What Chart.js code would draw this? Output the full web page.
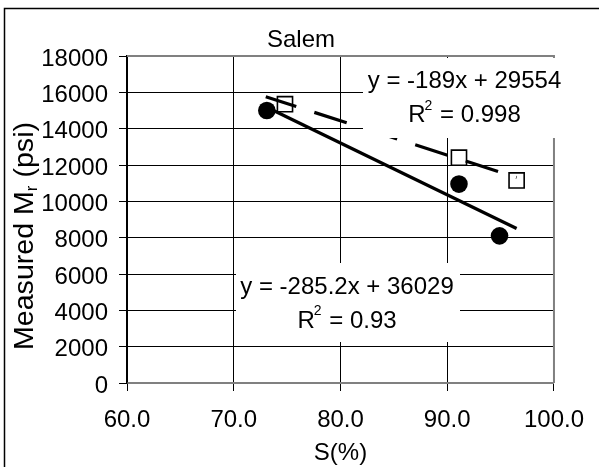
<!DOCTYPE html>
<html>
<head>
<meta charset="utf-8">
<script src="https://cdn.jsdelivr.net/npm/chart.js@4/dist/chart.umd.min.js"></script>
<style>
  html, body { margin: 0; padding: 0; background: #fff; }
  canvas { display: block; }
</style>
</head>
<body>
<canvas id="c" width="599" height="467"></canvas>
<script>
// Measured resilient modulus vs. degree of saturation, Salem
const circleS = [73.1, 91.1, 94.9];
const circleMr = [15000, 10950, 8100];
const squareS = [74.8, 91.1, 96.5];
const squareMr = [15350, 12400, 11150];

// linear fits: index 0 -> filled circles (solid), index 1 -> open squares (dashed)
const fitSlope = [-285.2, -189];
const fitIntercept = [36029, 29554];
const fitR2 = ['0.93', '0.998'];
const fitSpan = [73, 96.5];

const xTicks = [60, 70, 80, 90, 100];
const yTicks = [0, 2000, 4000, 6000, 8000, 10000, 12000, 14000, 16000, 18000];

const FONT = '"Liberation Sans", Arial, Helvetica, sans-serif';

const fitLine = i => fitSpan.map(x => ({ x, y: fitSlope[i] * x + fitIntercept[i] }));
const eqText = i => 'y = ' + fitSlope[i] + 'x + ' + fitIntercept[i];

// equation boxes, placed relative to the plot area (left, top, width, height, text centre, baselines)
const eqBoxes = [
  { fit: 0, x: 109, y: 207, w: 224, h: 79, cx: 220, b1: 237.5, b2: 271.7 },
  { fit: 1, x: 236, y: 2, w: 210, h: 80, cx: 337.5, b1: 32, b2: 66 }
];

const decor = {
  id: 'decor',
  beforeDraw(chart) {
    const ctx = chart.ctx;
    ctx.save();
    ctx.fillStyle = '#fff';
    ctx.fillRect(0, 0, chart.width, chart.height);
    ctx.strokeStyle = '#000';
    ctx.lineWidth = 1.5;
    ctx.beginPath();
    ctx.moveTo(4.5, chart.height + 5);
    ctx.lineTo(4.5, 8.5);
    ctx.lineTo(chart.width + 5, 8.5);
    ctx.stroke();
    ctx.restore();
  },
  beforeDatasetsDraw(chart) {
    const { ctx, chartArea: a } = chart;
    ctx.save();
    ctx.strokeStyle = '#808080';
    ctx.lineWidth = 2;
    ctx.beginPath();
    ctx.moveTo(a.left, a.top);
    ctx.lineTo(a.right, a.top);
    ctx.lineTo(a.right, a.bottom);
    ctx.stroke();
    ctx.restore();
  },
  afterDatasetsDraw(chart) {
    const { ctx, chartArea: a } = chart;
    ctx.save();
    eqBoxes.forEach(bx => {
      ctx.fillStyle = '#fff';
      ctx.fillRect(a.left + bx.x, a.top + bx.y, bx.w, bx.h);
      ctx.fillStyle = '#000';
      ctx.textBaseline = 'alphabetic';
      ctx.font = '24px ' + FONT;
      ctx.textAlign = 'center';
      const cx = a.left + bx.cx;
      ctx.fillText(eqText(bx.fit), cx, a.top + bx.b1);
      // R² line
      const rest = ' = ' + fitR2[bx.fit];
      ctx.font = '24px ' + FONT;
      const wR = ctx.measureText('R').width;
      const wRest = ctx.measureText(rest).width;
      ctx.font = '14px ' + FONT;
      const wSup = ctx.measureText('2').width;
      let x = cx - (wR + wSup + wRest) / 2;
      const base = a.top + bx.b2;
      ctx.textAlign = 'left';
      ctx.font = '24px ' + FONT;
      ctx.fillText('R', x, base);
      x += wR;
      ctx.font = '14px ' + FONT;
      ctx.fillText('2', x - 1, base - 12.5);
      x += wSup;
      ctx.font = '24px ' + FONT;
      ctx.fillText(rest, x, base);
    });
    ctx.restore();
  },
  afterDraw(chart) {
    const { ctx, chartArea: a } = chart;
    ctx.save();
    ctx.fillStyle = '#000';
    ctx.textBaseline = 'alphabetic';
    ctx.textAlign = 'center';
    ctx.font = '24px ' + FONT;
    ctx.fillText('Salem', 301, 47);
    ctx.fillText('S(%)', (a.left + a.right) / 2, 460);

    // vertical axis title with subscript r
    const parts = [
      { t: 'Measured M', size: 27, dy: 0 },
      { t: 'r', size: 16, dy: 4 },
      { t: ' (psi)', size: 27, dy: 0 }
    ];
    let total = 0;
    parts.forEach(p => { ctx.font = p.size + 'px ' + FONT; p.w = ctx.measureText(p.t).width; total += p.w; });
    const target = 228;
    const k = target / total;
    ctx.translate(33, 236);
    ctx.rotate(-Math.PI / 2);
    ctx.scale(k, 1);
    ctx.textAlign = 'left';
    let x = -total / 2;
    parts.forEach(p => {
      ctx.font = p.size + 'px ' + FONT;
      ctx.fillText(p.t, x, p.dy);
      x += p.w;
    });
    ctx.restore();
  }
};

new Chart(document.getElementById('c'), {
  type: 'scatter',
  data: {
    datasets: [
      {
        label: 'fit circles',
        data: fitLine(0),
        showLine: true,
        borderColor: '#000',
        borderWidth: 3.2,
        borderCapStyle: 'butt',
        pointRadius: 0
      },
      {
        label: 'fit squares',
        data: fitLine(1),
        showLine: true,
        borderColor: '#000',
        borderWidth: 3.2,
        borderCapStyle: 'butt',
        borderDash: [34, 19],
        borderDashOffset: 2,
        pointRadius: 0
      },
      {
        label: 'circles',
        data: circleS.map((s, i) => ({ x: s, y: circleMr[i] })),
        pointStyle: 'circle',
        pointRadius: 8.8,
        backgroundColor: '#000',
        borderColor: '#000',
        borderWidth: 0
      },
      {
        label: 'squares',
        data: squareS.map((s, i) => ({ x: s, y: squareMr[i] })),
        pointStyle: 'rect',
        pointRadius: 10.7,
        backgroundColor: '#fff',
        borderColor: '#000',
        borderWidth: 1.6
      }
    ]
  },
  options: {
    responsive: false,
    devicePixelRatio: 1,
    animation: false,
    events: [],
    layout: { padding: { top: 56, right: 32, bottom: 0, left: 0 } },
    plugins: { legend: { display: false }, tooltip: { enabled: false }, title: { display: false } },
    scales: {
      x: {
        type: 'linear',
        min: xTicks[0],
        max: xTicks[xTicks.length - 1],
        afterBuildTicks: s => { s.ticks = xTicks.map(v => ({ value: v })); },
        afterFit: s => { s.height = 84; },
        grid: { color: '#000', lineWidth: 1, tickLength: 8, drawTicks: true },
        border: { color: '#808080', width: 2 },
        ticks: {
          color: '#000',
          font: { family: FONT, size: 24 },
          padding: 15,
          maxRotation: 0,
          autoSkip: false,
          callback: v => Number(v).toFixed(1)
        }
      },
      y: {
        type: 'linear',
        min: yTicks[0],
        max: yTicks[yTicks.length - 1],
        afterBuildTicks: s => { s.ticks = yTicks.map(v => ({ value: v })); },
        afterFit: s => { s.width = 127; },
        grid: { color: '#000', lineWidth: 1, tickLength: 8, drawTicks: true },
        border: { color: '#000', width: 1.5 },
        ticks: {
          color: '#000',
          font: { family: FONT, size: 24 },
          padding: 11,
          labelOffset: 3,
          autoSkip: false,
          callback: v => String(v)
        }
      }
    }
  },
  plugins: [decor]
});
</script>
</body>
</html>
